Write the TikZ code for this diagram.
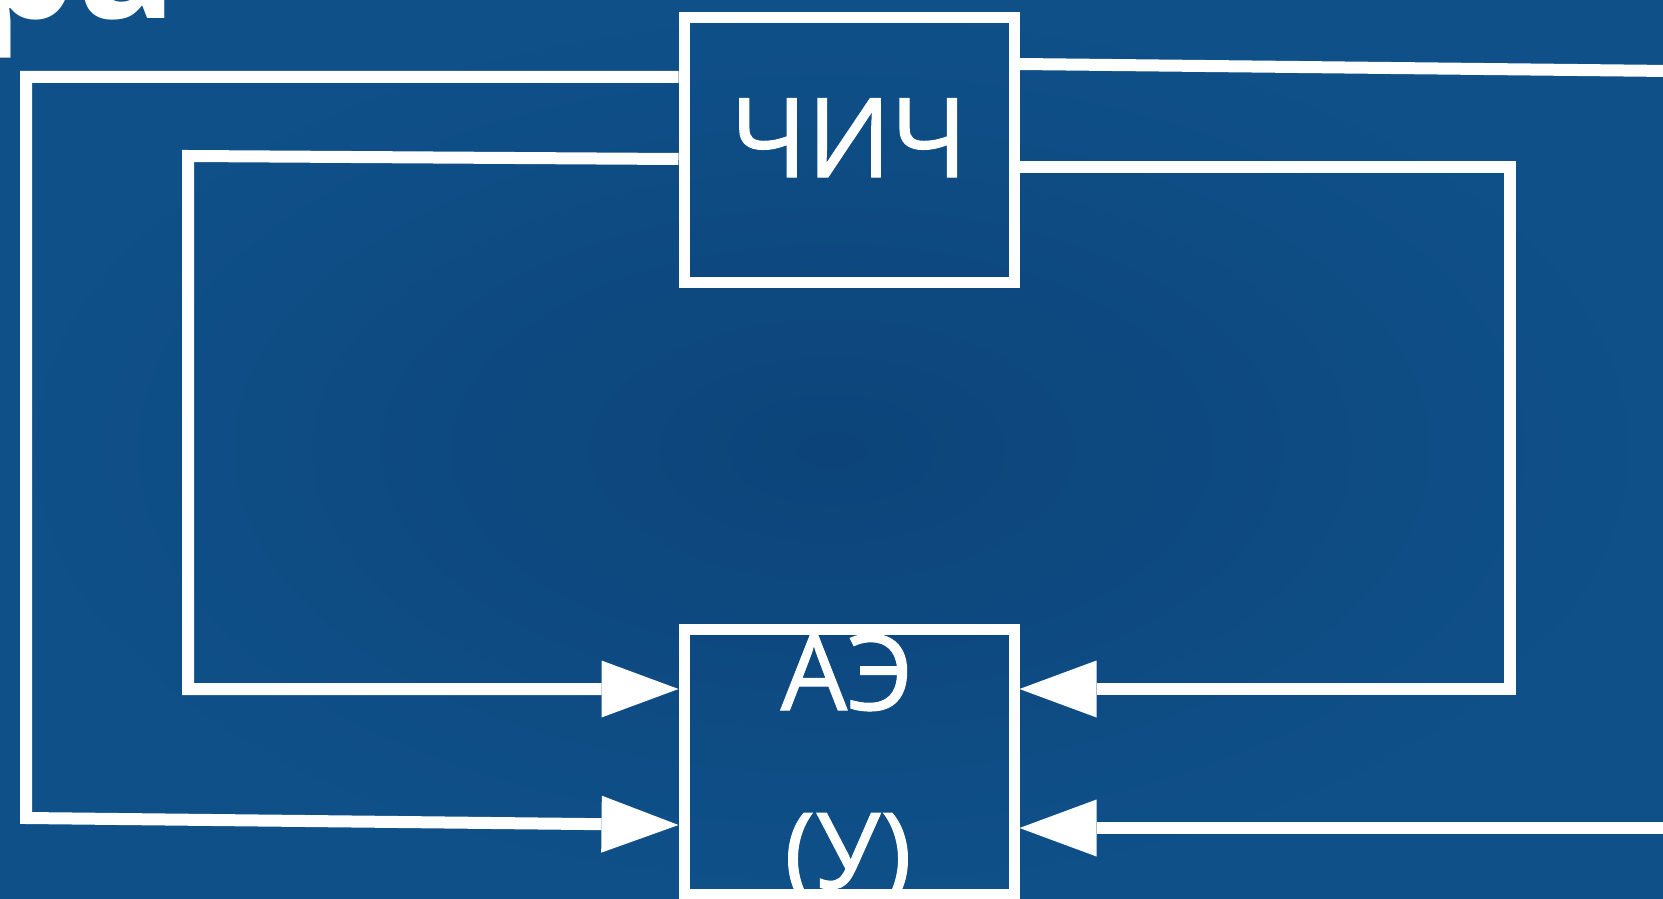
\documentclass[tikz,border=0pt]{standalone}
\usepackage{fontspec}
\setmainfont{Open Sans}
\newfontfamily\lblfont[FakeBold=1]{Open Sans}
\usetikzlibrary{arrows.meta}
\definecolor{bgin}{HTML}{0C4479}
\definecolor{bgout}{HTML}{0F5089}
\begin{document}
\begin{tikzpicture}[x=1pt,y=-1pt,
  wire/.style={draw=white, line width=12pt, line join=miter},
  blk/.style={draw=white, line width=11pt, inner sep=0pt, minimum width=330pt},
  arr/.style={-{Triangle[length=77pt,width=57pt,line width=0pt]}},
  lbl/.style={text=white, inner sep=0pt, anchor=base}]
\useasboundingbox (0,0) rectangle (1663,899);
\clip (0,0) rectangle (1663,899);
\shade[inner color=bgin, outer color=bgout, shading=radial] (0,0) rectangle (1663,899);
% partial title in the corner
\node[text=white, inner sep=0pt, anchor=base west, font=\bfseries\fontsize{165}{165}\selectfont] (title) at (-27,19) {ра};
% blocks
\node[blk, minimum height=264pt] (chich) at (849,150) {};
\node[blk, minimum height=265pt] (ae) at (849,761.5) {};
\node[lbl, font=\lblfont\fontsize{110}{110}\selectfont] (tchich) at (849,177) {ЧИЧ};
\node[lbl, font=\lblfont\fontsize{105}{105}\selectfont] (tae) at (847,710) {АЭ};
\node[lbl, font=\lblfont\fontsize{105}{105}\selectfont] (tu) at (848,888) {(У)};
% corner coordinates
\coordinate (ol1) at (26,77);
\coordinate (ol2) at (26,818);
\coordinate (il1) at (188,156);
\coordinate (il2) at (188,689);
\coordinate (ir1) at (1510,167);
\coordinate (ir2) at (1510,689);
\coordinate (rt) at (1670,71);
\coordinate (rb) at (1670,828);
% connectors
\draw[wire,arr] ([yshift=73pt]chich.west) -- (ol1) -- (ol2) -- ([yshift=-63.5pt]ae.west);
\draw[wire,arr] ([yshift=-9pt]chich.west) -- (il1) -- (il2) -- ([yshift=72.5pt]ae.west);
\draw[wire,arr] ([yshift=-17pt]chich.east) -- (ir1) -- (ir2) -- ([yshift=72.5pt]ae.east);
\draw[wire] ([yshift=86pt]chich.east) -- (rt);
\draw[wire,arr] (rb) -- ([yshift=-66.5pt]ae.east);
\end{tikzpicture}
\end{document}
